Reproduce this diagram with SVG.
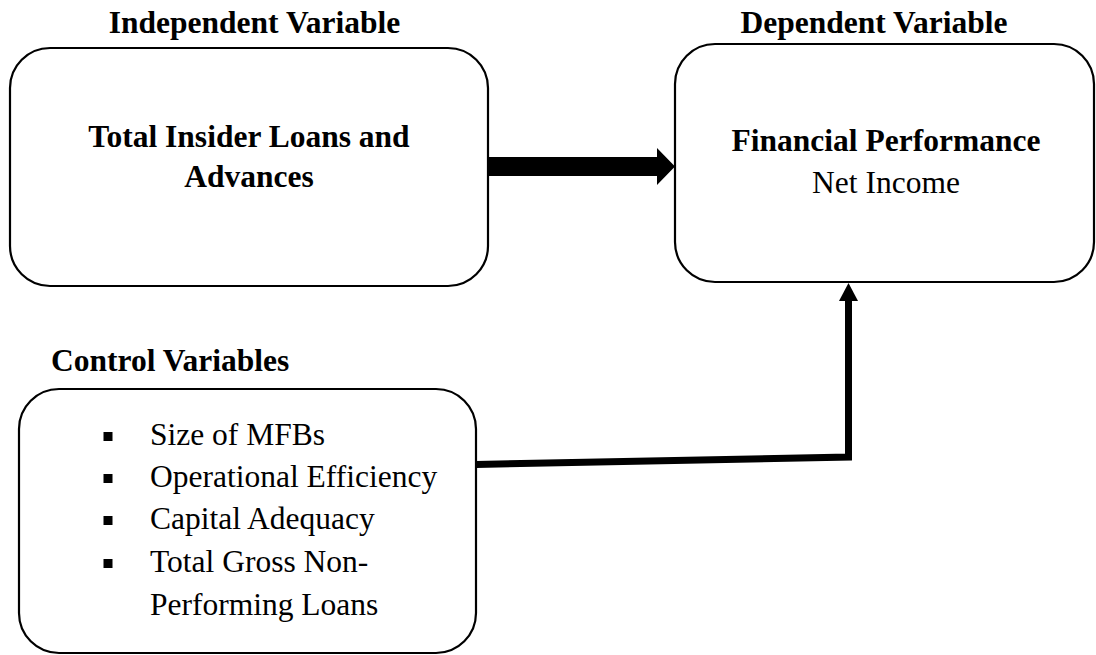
<svg xmlns="http://www.w3.org/2000/svg" width="1096" height="655" viewBox="0 0 1096 655">
<style>
.box{fill:#fff;stroke:#000;stroke-width:2.2}
.b{font-family:"Liberation Serif","Times New Roman",serif;font-weight:bold;font-size:31.5px;fill:#000}
.r{font-family:"Liberation Serif","Times New Roman",serif;font-size:31.5px;fill:#000}
.c{text-anchor:middle}
</style>
<rect width="1096" height="655" fill="#fff"/>
<text class="b c" x="254.5" y="33">Independent Variable</text>
<text class="b c" x="874" y="33">Dependent Variable</text>
<text class="b" x="51" y="371">Control Variables</text>
<g id="independent">
<rect class="box" x="10" y="48" width="478" height="238" rx="40"/>
<text class="b c" x="249" y="147">Total Insider Loans and</text>
<text class="b c" x="249" y="187">Advances</text>
</g>
<g id="dependent">
<rect class="box" x="675" y="44" width="419" height="238" rx="40"/>
<text class="b c" x="886" y="151">Financial Performance</text>
<text class="r c" x="886" y="193">Net Income</text>
</g>
<g id="control">
<rect class="box" x="19" y="389" width="457" height="264" rx="40"/>
<rect x="103.5" y="432" width="9" height="9"/>
<rect x="103.5" y="474" width="9" height="9"/>
<rect x="103.5" y="516" width="9" height="9"/>
<rect x="103.5" y="559" width="9" height="9"/>
<text class="r" x="150" y="445">Size of MFBs</text>
<text class="r" x="150" y="487">Operational Efficiency</text>
<text class="r" x="150" y="529">Capital Adequacy</text>
<text class="r" x="150" y="572">Total Gross Non-</text>
<text class="r" x="150" y="615">Performing Loans</text>
</g>
<g id="connectors">
<polygon points="489,157 657,157 657,148 675,166.5 657,185 657,176 489,176" fill="#000"/>
<polyline points="476,464.5 848.5,457 848.5,299" fill="none" stroke="#000" stroke-width="7" stroke-linejoin="miter"/>
<polygon points="839,301 848.5,283 858,301" fill="#000"/>
</g>
</svg>
